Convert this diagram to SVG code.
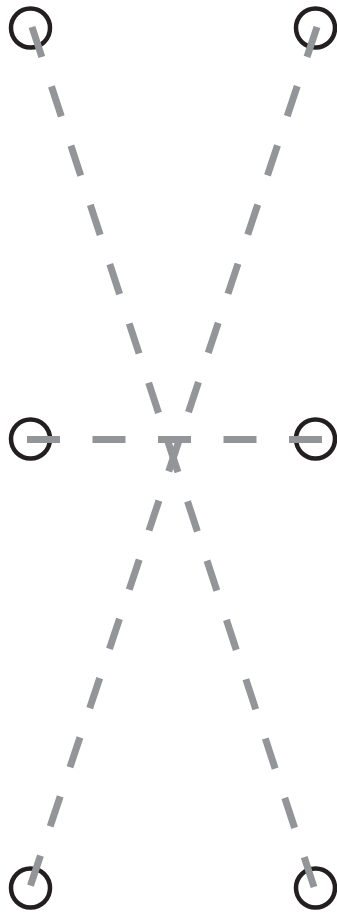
<svg xmlns="http://www.w3.org/2000/svg" width="337" height="913" viewBox="0 0 337 913">
<style>
.node{fill:none;stroke:#231f20;stroke-width:4.5}
.dash{fill:none;stroke:#939598;stroke-width:7;stroke-linecap:butt}
</style>
<rect width="337" height="913" fill="#ffffff"/>
<g id="n-top-left"><circle class="node" cx="30.5" cy="28" r="19.5"/></g>
<g id="n-top-right"><circle class="node" cx="315.5" cy="28" r="19.5"/></g>
<g id="n-mid-left"><circle class="node" cx="30.5" cy="439" r="19.5"/></g>
<g id="n-mid-right"><circle class="node" cx="315.5" cy="439" r="19.5"/></g>
<g id="n-bottom-left"><circle class="node" cx="30.5" cy="888" r="19.5"/></g>
<g id="n-bottom-right"><circle class="node" cx="315.5" cy="888" r="19.5"/></g>
<g id="connectors">
<line class="dash" x1="32" y1="27" x2="314" y2="887" stroke-dasharray="31.6 30.8"/>
<line class="dash" x1="317" y1="27" x2="30" y2="887" stroke-dasharray="31.6 30.8"/>
<line class="dash" x1="27" y1="439.5" x2="322" y2="439.5" stroke-dasharray="33 32.5"/>
</g>
</svg>
